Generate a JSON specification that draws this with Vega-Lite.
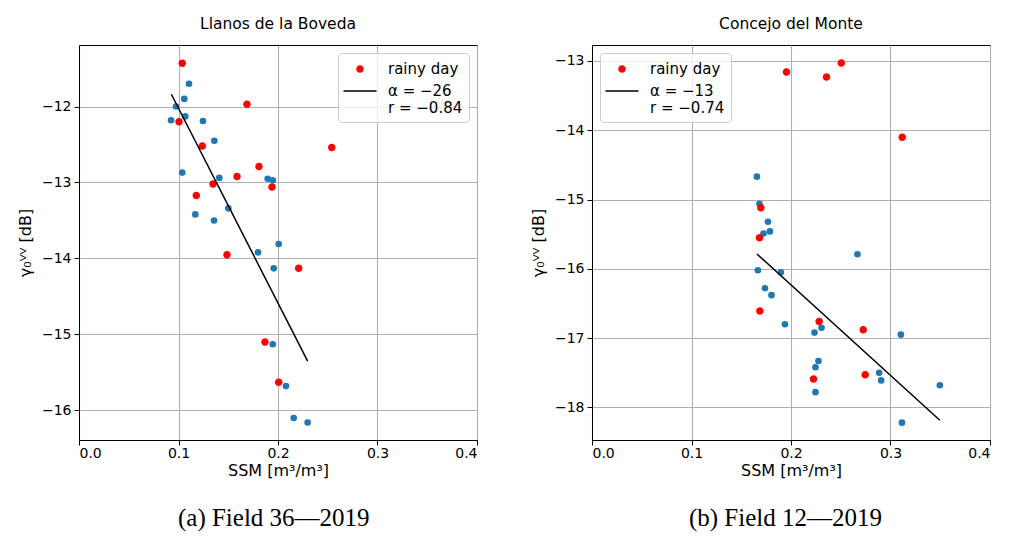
{
  "$schema": "https://vega.github.io/schema/vega-lite/v6.json",
  "padding": {"left": 16, "top": 16, "right": 5, "bottom": 5},
  "background": "white",
  "config": {
    "font": "DejaVu Sans",
    "view": {"stroke": "#000000", "strokeWidth": 1},
    "axis": {
      "domainColor": "#000000", "tickColor": "#000000", "tickSize": 5, "tickWidth": 1,
      "labelColor": "#000000", "labelFontSize": 14, "labelFont": "DejaVu Sans", "labelPadding": 3,
      "titleColor": "#000000", "titleFontSize": 16, "titleFont": "DejaVu Sans", "titleFontWeight": "normal",
      "gridColor": "#b0b0b0", "gridWidth": 1.1, "gridOpacity": 1
    },
    "axisY": {"titlePadding": 8},
    "axisX": {"titlePadding": 2, "labelPadding": 1},
    "title": {"fontSize": 15.5, "fontWeight": "normal", "color": "#000000", "font": "DejaVu Sans", "offset": 13},
    "legend": {
      "labelFontSize": 15, "labelFont": "DejaVu Sans", "labelColor": "#000000",
      "symbolSize": 400, "symbolStrokeWidth": 0, "labelOffset": 18, "symbolOffset": 6,
      "fillColor": "rgba(255,255,255,0.8)", "strokeColor": "#cccccc", "cornerRadius": 3,
      "padding": 6, "rowPadding": 4, "offset": 8
    }
  },
  "datasets": {
    "a_dry": [
      {"ssm": 0.1106, "g": -11.70}, {"ssm": 0.1058, "g": -11.90}, {"ssm": 0.0975, "g": -12.00},
      {"ssm": 0.1068, "g": -12.13}, {"ssm": 0.0925, "g": -12.18}, {"ssm": 0.1246, "g": -12.19},
      {"ssm": 0.1360, "g": -12.45}, {"ssm": 0.1038, "g": -12.87}, {"ssm": 0.1410, "g": -12.94},
      {"ssm": 0.1896, "g": -12.95}, {"ssm": 0.1947, "g": -12.97}, {"ssm": 0.1501, "g": -13.34},
      {"ssm": 0.1169, "g": -13.42}, {"ssm": 0.1357, "g": -13.50}, {"ssm": 0.2007, "g": -13.81},
      {"ssm": 0.1799, "g": -13.92}, {"ssm": 0.1957, "g": -14.13}, {"ssm": 0.1947, "g": -15.13},
      {"ssm": 0.2080, "g": -15.68}, {"ssm": 0.2158, "g": -16.10}, {"ssm": 0.2298, "g": -16.16}
    ],
    "a_rain": [
      {"ssm": 0.1038, "g": -11.43, "leg": "rainy day"}, {"ssm": 0.1688, "g": -11.97, "leg": "rainy day"},
      {"ssm": 0.1005, "g": -12.20, "leg": "rainy day"}, {"ssm": 0.1239, "g": -12.52, "leg": "rainy day"},
      {"ssm": 0.2540, "g": -12.54, "leg": "rainy day"}, {"ssm": 0.1809, "g": -12.79, "leg": "rainy day"},
      {"ssm": 0.1588, "g": -12.92, "leg": "rainy day"}, {"ssm": 0.1347, "g": -13.02, "leg": "rainy day"},
      {"ssm": 0.1940, "g": -13.06, "leg": "rainy day"}, {"ssm": 0.1179, "g": -13.17, "leg": "rainy day"},
      {"ssm": 0.1487, "g": -13.95, "leg": "rainy day"}, {"ssm": 0.2208, "g": -14.13, "leg": "rainy day"},
      {"ssm": 0.1869, "g": -15.10, "leg": "rainy day"}, {"ssm": 0.2007, "g": -15.63, "leg": "rainy day"}
    ],
    "a_fit": [{"ssm": 0.0928, "g": -11.838}, {"ssm": 0.2298, "g": -15.351}],
    "b_dry": [
      {"ssm": 0.1657, "g": -14.67}, {"ssm": 0.1683, "g": -15.06}, {"ssm": 0.1768, "g": -15.32},
      {"ssm": 0.1788, "g": -15.46}, {"ssm": 0.1724, "g": -15.49}, {"ssm": 0.1667, "g": -16.02},
      {"ssm": 0.1898, "g": -16.05}, {"ssm": 0.1738, "g": -16.28}, {"ssm": 0.1804, "g": -16.38},
      {"ssm": 0.1939, "g": -16.80}, {"ssm": 0.2307, "g": -16.85}, {"ssm": 0.2236, "g": -16.92},
      {"ssm": 0.2276, "g": -17.33}, {"ssm": 0.2246, "g": -17.42}, {"ssm": 0.2246, "g": -17.78},
      {"ssm": 0.2668, "g": -15.79}, {"ssm": 0.3104, "g": -16.95}, {"ssm": 0.2886, "g": -17.50},
      {"ssm": 0.2906, "g": -17.61}, {"ssm": 0.3496, "g": -17.68}, {"ssm": 0.3115, "g": -18.22}
    ],
    "b_rain": [
      {"ssm": 0.1955, "g": -13.16, "leg": "rainy day"}, {"ssm": 0.2505, "g": -13.03, "leg": "rainy day"},
      {"ssm": 0.2357, "g": -13.23, "leg": "rainy day"}, {"ssm": 0.3118, "g": -14.10, "leg": "rainy day"},
      {"ssm": 0.1697, "g": -15.12, "leg": "rainy day"}, {"ssm": 0.1683, "g": -15.55, "leg": "rainy day"},
      {"ssm": 0.1687, "g": -16.61, "leg": "rainy day"}, {"ssm": 0.2283, "g": -16.76, "leg": "rainy day"},
      {"ssm": 0.2226, "g": -17.59, "leg": "rainy day"}, {"ssm": 0.2726, "g": -16.88, "leg": "rainy day"},
      {"ssm": 0.2746, "g": -17.53, "leg": "rainy day"}
    ],
    "b_fit": [{"ssm": 0.1657, "g": -15.785}, {"ssm": 0.3496, "g": -18.185}]
  },
  "hconcat": [
    {
      "title": {"text": "(a) Field 36—2019", "orient": "bottom", "anchor": "start", "frame": "bounds", "dx": 161, "font": "Liberation Serif", "fontSize": 25, "offset": 27},
      "resolve": {"scale": {"color": "independent", "shape": "independent"}, "legend": {"color": "independent", "shape": "independent"}},
      "vconcat": [
        {
          "width": 398, "height": 395,
          "title": "Llanos de la Boveda",
          "encoding": {
            "x": {"field": "ssm", "type": "quantitative",
                  "scale": {"domain": [0, 0.4], "nice": false, "zero": false},
                  "axis": {"title": "SSM [m³/m³]", "values": [0, 0.1, 0.2, 0.3, 0.4], "format": ".1f"}},
            "y": {"field": "g", "type": "quantitative",
                  "scale": {"domain": [-16.39, -11.19], "nice": false, "zero": false},
                  "axis": {"title": "γ₀ⱽⱽ [dB]", "values": [-16, -15, -14, -13, -12], "format": "d"}}
          },
          "layer": [
            {"data": {"name": "a_dry"}, "mark": {"type": "point", "filled": true, "size": 44, "opacity": 1, "color": "#1f77b4"}},
            {"data": {"name": "a_rain"}, "mark": {"type": "point", "filled": true, "size": 400, "opacity": 1},
             "encoding": {
               "color": {"field": "leg", "type": "nominal",
                         "scale": {"domain": ["rainy day", "α = −26|r = −0.84"], "range": ["#ff0000", "#000000"]},
                         "legend": {"title": null, "orient": "top-right", "labelExpr": "split(datum.label, '|')"}},
               "shape": {"field": "leg", "type": "nominal",
                         "scale": {"domain": ["rainy day", "α = −26|r = −0.84"],
                                   "range": ["M-0.375,0A0.375,0.375,0,1,0,0.375,0A0.375,0.375,0,1,0,-0.375,0Z", "M-1.65,-0.075H1.65V0.075H-1.65Z"]},
                         "legend": {"title": null, "orient": "top-right", "labelExpr": "split(datum.label, '|')"}}
             }},
            {"data": {"name": "a_fit"}, "mark": {"type": "line", "color": "#000000", "strokeWidth": 1.5}}
          ]
        }
      ]
    },
    {
      "title": {"text": "(b) Field 12—2019", "orient": "bottom", "anchor": "start", "frame": "bounds", "dx": 159, "font": "Liberation Serif", "fontSize": 25, "offset": 27},
      "resolve": {"scale": {"color": "independent", "shape": "independent"}, "legend": {"color": "independent", "shape": "independent"}},
      "vconcat": [
        {
          "width": 398, "height": 395,
          "title": "Concejo del Monte",
          "encoding": {
            "x": {"field": "ssm", "type": "quantitative",
                  "scale": {"domain": [0, 0.4], "nice": false, "zero": false},
                  "axis": {"title": "SSM [m³/m³]", "values": [0, 0.1, 0.2, 0.3, 0.4], "format": ".1f"}},
            "y": {"field": "g", "type": "quantitative",
                  "scale": {"domain": [-18.47, -12.77], "nice": false, "zero": false},
                  "axis": {"title": "γ₀ⱽⱽ [dB]", "values": [-18, -17, -16, -15, -14, -13], "format": "d"}}
          },
          "layer": [
            {"data": {"name": "b_dry"}, "mark": {"type": "point", "filled": true, "size": 44, "opacity": 1, "color": "#1f77b4"}},
            {"data": {"name": "b_rain"}, "mark": {"type": "point", "filled": true, "size": 400, "opacity": 1},
             "encoding": {
               "color": {"field": "leg", "type": "nominal",
                         "scale": {"domain": ["rainy day", "α = −13|r = −0.74"], "range": ["#ff0000", "#000000"]},
                         "legend": {"title": null, "orient": "top-left", "labelExpr": "split(datum.label, '|')"}},
               "shape": {"field": "leg", "type": "nominal",
                         "scale": {"domain": ["rainy day", "α = −13|r = −0.74"],
                                   "range": ["M-0.375,0A0.375,0.375,0,1,0,0.375,0A0.375,0.375,0,1,0,-0.375,0Z", "M-1.65,-0.075H1.65V0.075H-1.65Z"]},
                         "legend": {"title": null, "orient": "top-left", "labelExpr": "split(datum.label, '|')"}}
             }},
            {"data": {"name": "b_fit"}, "mark": {"type": "line", "color": "#000000", "strokeWidth": 1.5}}
          ]
        }
      ]
    }
  ],
  "spacing": 51,
  "resolve": {"scale": {"color": "independent", "shape": "independent", "x": "independent", "y": "independent"}, "legend": {"color": "independent", "shape": "independent"}}
}
